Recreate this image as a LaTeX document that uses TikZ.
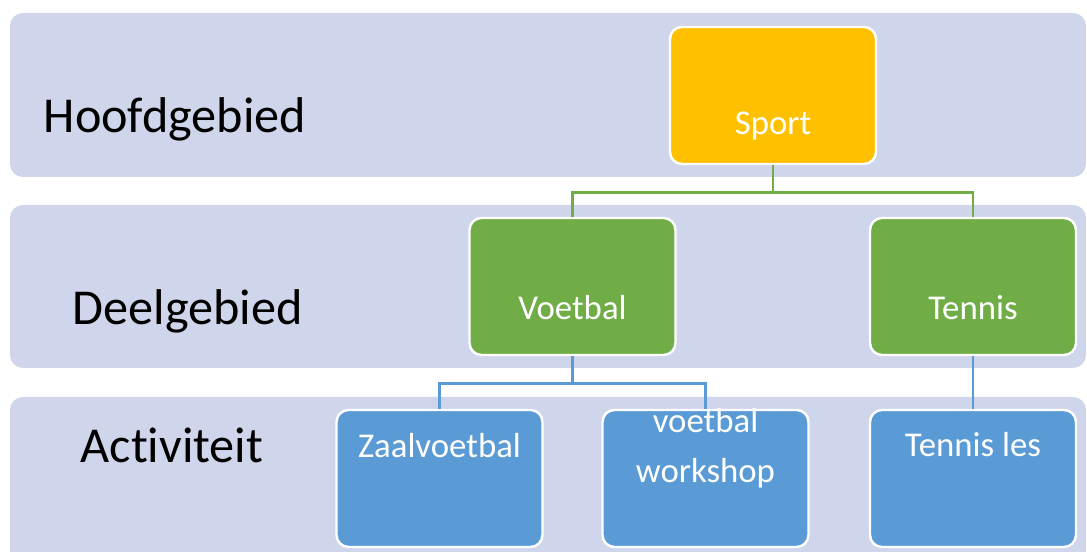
\documentclass[tikz,border=0pt]{standalone}
\usepackage{fontspec}
\setmainfont{Carlito}[Ligatures=NoCommon]
\definecolor{bandcol}{HTML}{CFD5EA}
\definecolor{sportcol}{HTML}{FFC000}
\definecolor{deelcol}{HTML}{70AD47}
\definecolor{actcol}{HTML}{5B9BD5}
\tikzset{
	band/.style={fill=bandcol, rounded corners=0.13cm},
	levellabel/.style={anchor=base west, inner sep=0pt, font=\fontsize{14.3}{17}\selectfont},
	box/.style={rectangle, rounded corners=0.12cm, draw=white, line width=0.7pt, text=white, inner sep=0pt,
		minimum width=2.06cm, font=\fontsize{9.9}{14.5}\selectfont, align=center},
	greenline/.style={draw=deelcol, line width=0.8pt},
	blueline/.style={draw=actcol, line width=0.8pt}
}
\begin{document}
\begin{tikzpicture}
	\clip (0,0) rectangle (10.87,5.52);
	% the three levels
	\fill[band] (0.10,5.39) rectangle (10.86,3.75);
	\fill[band] (0.10,3.47) rectangle (10.86,1.84);
	\fill[band] (0.10,1.55) rectangle (10.86,-0.30);
	\node[levellabel] (hoofd) at (0.43,4.19) {Hoofdgebied};
	\node[levellabel] (deel) at (0.72,2.27) {Deelgebied};
	\node[levellabel] (activ) at (0.80,0.89) {Activiteit};
	% boxes
	\node[box, fill=sportcol, text height=1.08cm, text depth=0.29cm] (sport) at (7.73,4.565) {Sport};
	\node[box, fill=deelcol, text height=1.02cm, text depth=0.35cm] (voetbal) at (5.725,2.655) {Voetbal};
	\node[box, fill=deelcol, text height=1.02cm, text depth=0.35cm] (tennis) at (9.73,2.655) {Tennis};
	\node[box, fill=actcol, text height=0.48cm, text depth=0.89cm] (zaal) at (4.395,0.735) {Zaalvoetbal};
	\node[box, fill=actcol, text height=0.73cm, text depth=0.64cm] (workshop) at (7.055,0.735) {voetbal\\workshop};
	\node[box, fill=actcol, text height=0.47cm, text depth=0.90cm] (tennisles) at (9.73,0.735) {Tennis les};
	% connectors
	\draw[greenline] (sport.south) -- ++(0,-0.27) -| (voetbal.north);
	\draw[greenline] (sport.south) -- ++(0,-0.27) -| (tennis.north);
	\draw[blueline] (voetbal.south) -- ++(0,-0.27) -| (zaal.north);
	\draw[blueline] (voetbal.south) -- ++(0,-0.27) -| (workshop.north);
	\draw[blueline] (tennis.south) -- (tennisles.north);
\end{tikzpicture}
\end{document}
